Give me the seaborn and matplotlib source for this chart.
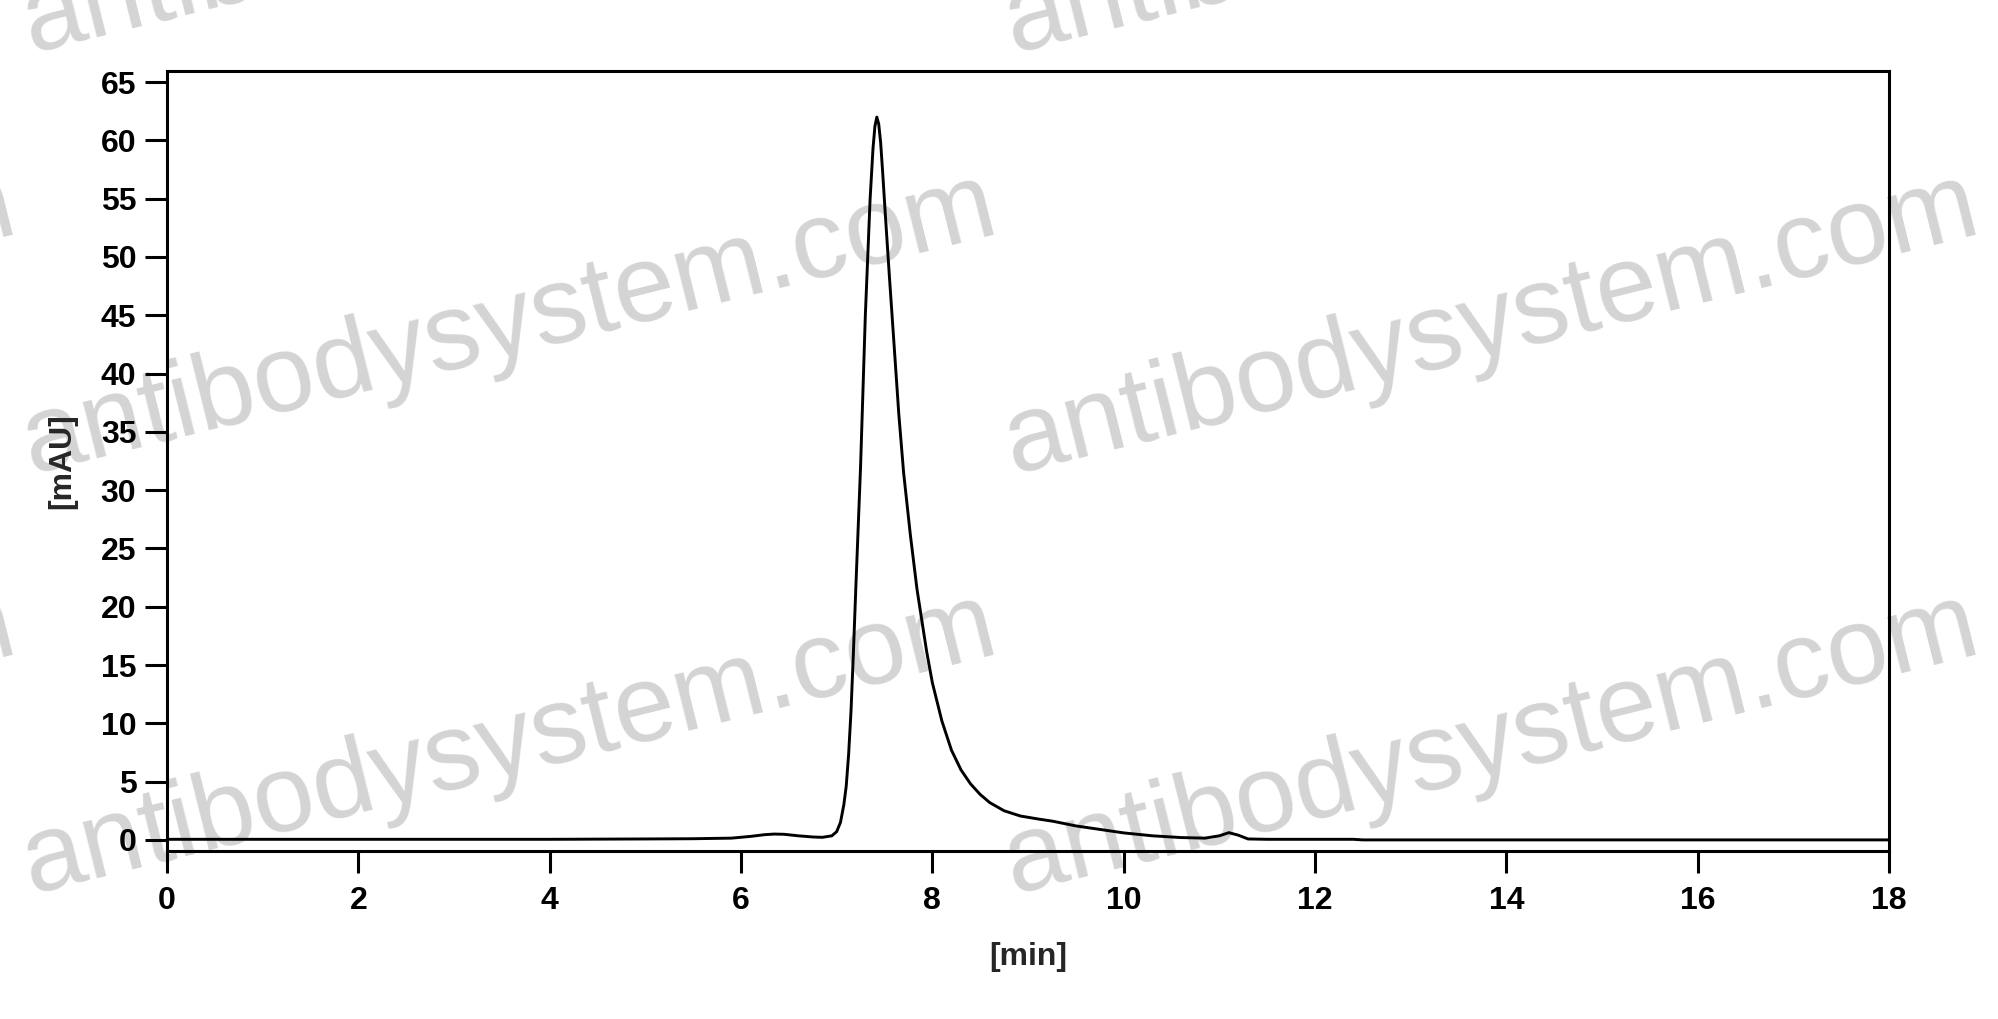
import matplotlib
matplotlib.use("Agg")
from matplotlib import pyplot as plt
import seaborn as sns

# chromatogram trace (time in min, absorbance in mAU)
time_min = [0.0, 2.0, 4.0, 5.0, 5.5, 5.9, 6.1, 6.25, 6.35, 6.45, 6.6, 6.75, 6.85,
            6.95, 7.0, 7.04, 7.075, 7.1, 7.125, 7.15, 7.175, 7.2, 7.25, 7.3,
            7.35, 7.38, 7.4, 7.42, 7.44, 7.46, 7.48, 7.51, 7.55, 7.6, 7.65,
            7.7, 7.77, 7.84, 7.94, 8.0, 8.1, 8.2, 8.3, 8.4, 8.5, 8.6, 8.75,
            8.92, 9.1, 9.26, 9.5, 9.75, 10.0, 10.3, 10.6, 10.85, 11.0, 11.1,
            11.2, 11.3, 11.5, 12.4, 12.5, 18.0]
signal_mau = [0.05, 0.05, 0.05, 0.08, 0.1, 0.15, 0.3, 0.45, 0.5, 0.48, 0.35, 0.25, 0.22,
              0.35, 0.7, 1.5, 3.0, 4.6, 7.3, 11.0, 16.0, 21.5, 32.0, 45.0,
              55.0, 59.3, 61.2, 62.0, 61.4, 59.8, 57.4, 53.5, 48.5, 42.5, 36.5,
              31.5, 26.2, 21.5, 16.2, 13.5, 10.2, 7.7, 6.0, 4.8, 3.9, 3.2, 2.5,
              2.05, 1.8, 1.6, 1.2, 0.9, 0.6, 0.35, 0.2, 0.15, 0.35, 0.62,
              0.4, 0.08, 0.05, 0.05, 0.0, 0.0]

x_ticks = list(range(0, 19, 2))
y_ticks = list(range(0, 70, 5))

sns.set_style("white")
plt.rcParams['font.family'] = ['Liberation Sans', 'DejaVu Sans']

fig = plt.figure(figsize=(19.99, 10.19), dpi=100)
ax = fig.add_axes([0.0835, 0.1649, 0.8615, 0.7654])
ax.set_zorder(1)
ax.patch.set_alpha(0)

# watermark behind the plot
for cx in [-0.236, 0.255, 0.746]:
    for cy in [1.094, 0.681, 0.268, -0.145]:
        fig.text(cx, cy, "antibodysystem.com", fontsize=79, color="#d4d4d4",
                 rotation=14, rotation_mode="anchor", ha="center", va="center",
                 zorder=0.5)

sns.lineplot(x=time_min, y=signal_mau, ax=ax, color="black", linewidth=2.1,
             sort=False, estimator=None)

ax.set_xlim(0, 18)
ax.set_ylim(-0.95, 65.95)
ax.set_xticks(x_ticks)
ax.set_yticks(y_ticks)
ax.tick_params(axis="both", direction="out", length=16, width=2.2,
               labelsize=23, pad=6, colors="black", left=True, bottom=True)
ax.tick_params(axis="x", pad=9)
for lab in ax.get_xticklabels() + ax.get_yticklabels():
    lab.set_fontweight("bold")

for s in ax.spines.values():
    s.set_visible(True)
    s.set_linewidth(2.2)
    s.set_color("black")

ax.set_xlabel("[min]", fontsize=23, fontweight="bold")
ax.set_ylabel("[mAU]", fontsize=23, fontweight="bold")
ax.xaxis.set_label_coords(0.5, -0.117)
ax.yaxis.set_label_coords(-0.052, 0.5)

fig.savefig("out.png", dpi=100, facecolor="white")
